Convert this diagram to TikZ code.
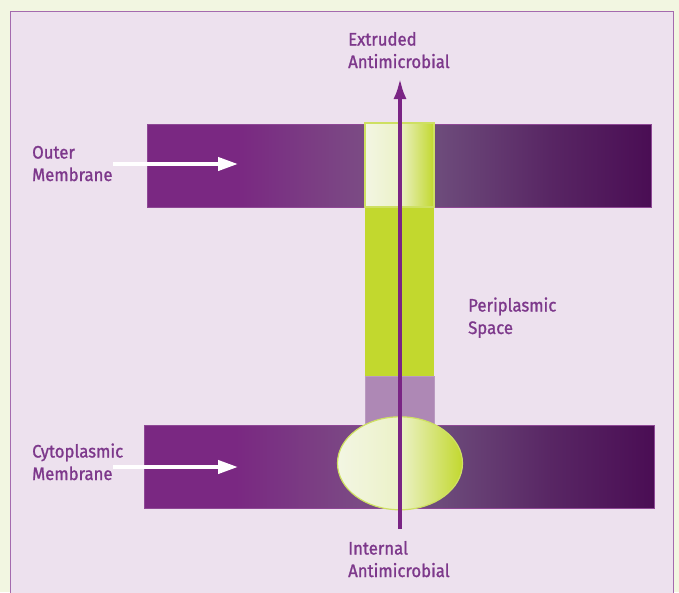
\documentclass[tikz,border=0pt]{standalone}
\usepackage{fontspec}
\setmainfont{Fira Sans}[FakeStretch=0.93, FakeBold=1.2]
\usepackage{xcolor}
\usetikzlibrary{positioning, arrows.meta, shapes.geometric}
\definecolor{paper}{RGB}{242,246,225}
\definecolor{lilac}{RGB}{237,225,238}
\definecolor{rim}{RGB}{164,106,174}
\definecolor{plum}{RGB}{122,40,130}
\definecolor{plummid}{RGB}{123,74,132}
\definecolor{plumgrey}{RGB}{109,75,123}
\definecolor{plumdark}{RGB}{74,13,84}
\definecolor{lime}{RGB}{194,216,46}
\definecolor{limepale}{RGB}{243,246,227}
\definecolor{limeedge}{RGB}{206,224,98}
\definecolor{mauve}{RGB}{174,136,181}
\definecolor{ink}{RGB}{125,56,139}
\definecolor{shaft}{RGB}{122,36,132}
\pgfdeclarehorizontalshading{memshade}{100bp}{color(0bp)=(plum); color(25bp)=(plum);
  color(34bp)=(plum); color(46bp)=(plummid); color(54bp)=(plumgrey);
  color(65bp)=(plumdark!60!plumgrey); color(75bp)=(plumdark); color(100bp)=(plumdark)}
\pgfdeclarehorizontalshading{poreshade}{100bp}{color(0bp)=(limepale); color(25bp)=(limepale);
  color(50bp)=(limepale!85!lime); color(75bp)=(lime); color(100bp)=(lime)}

\begin{document}
\begin{tikzpicture}[
  x=1pt, y=-1pt,
  membrane/.style={draw=plum!85!white, line width=1pt, shading=memshade,
                   minimum height=83pt, inner sep=0pt},
  tube/.style={fill=lime, draw=none, minimum width=69pt, inner sep=0pt},
  pore/.style={shading=poreshade, draw=limeedge, line width=1.2pt,
               minimum width=69pt, minimum height=84pt, inner sep=0pt},
  lab/.style={text=ink, font=\fontsize{18}{22.5}\selectfont, align=left,
              inner sep=0pt, anchor=base west},
  pointer/.style={draw=white, line width=4pt, -{Triangle[length=20pt, width=13pt]}},
  efflux/.style={draw=shaft, line width=4pt, -{Latex[length=21pt, width=13pt]}}]

  % page and frame
  \useasboundingbox (0,0) rectangle (679,592);
  \fill[paper] (0,0) rectangle (679,592);
  \draw[rim, fill=lilac, line width=1.5pt] (10.5,11.5) rectangle (673.5,600);

  % membranes and pump
  \node[membrane, minimum width=504pt] (outer) at (399.2,165.5) {};
  \node[tube, minimum height=169pt] (channel) at (399.5,291.5) {};
  \node[pore] (poreout) at (399.5,165) {};
  \node[fill=mauve, draw=mauve!85!white, minimum width=69pt, minimum height=50pt,
        inner sep=0pt] (adaptor) at (399.5,401) {};
  \node[membrane, minimum width=510pt] (cyto) at (399,466.8) {};
  \node[ellipse, shading=poreshade, draw=limeedge, line width=1.2pt,
        minimum width=125pt, minimum height=93pt, inner sep=0pt] (pump) at (400,463.3) {};

  % labels (anchored on the last line)
  \node[lab] (lblouter) at (32,181) {Outer\\Membrane};
  \node[lab] (lblcyto) at (32,480) {Cytoplasmic\\Membrane};
  \node[lab] (lblext) at (348,68) {Extruded\\Antimicrobial};
  \node[lab] (lblperi) at (468,334) {Periplasmic\\Space};
  \node[lab] (lblint) at (348,577) {Internal\\Antimicrobial};

  % arrows
  \coordinate (outtail) at (113,164);
  \coordinate (outtip) at (238,164);
  \coordinate (cytotail) at (113,467);
  \coordinate (cytotip) at (238,467);
  \coordinate (drugin) at (400,529);
  \coordinate (drugout) at (400,78);
  \draw[pointer] (outtail) -- (outtip);
  \draw[pointer] (cytotail) -- (cytotip);
  \draw[efflux] (drugin) -- (drugout);
\end{tikzpicture}
\end{document}
